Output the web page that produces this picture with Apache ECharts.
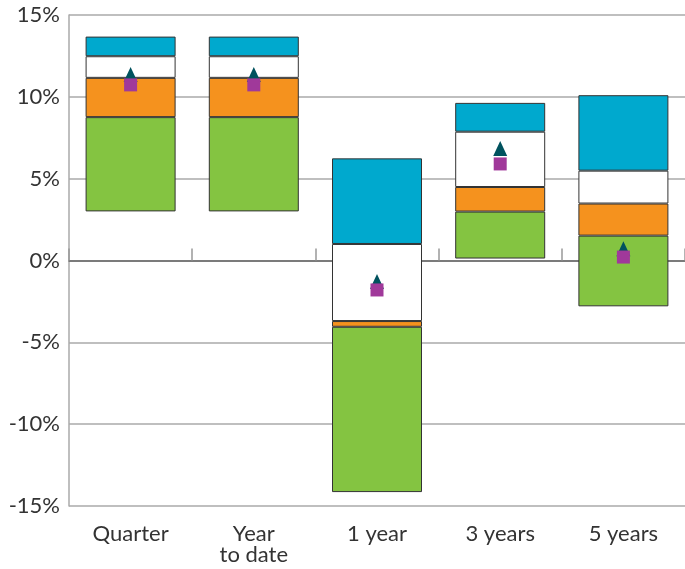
<!DOCTYPE html>
<html>
<head>
<meta charset="utf-8">
<script src="https://cdn.jsdelivr.net/npm/echarts@6/dist/echarts.min.js"></script>
<style>
html,body{margin:0;padding:0;background:#fff;}
#chart{width:685px;height:569px;}
</style>
</head>
<body>
<div id="chart"></div>
<script>
const categories = ['Quarter', 'Year\nto date', '1 year', '3 years', '5 years'];
const rangeBottom = [3.00, 3.00, -14.15, 0.12, -2.80];
const greenTop = [8.76, 8.76, -4.05, 2.99, 1.52];
const orangeTop = [11.16, 11.16, -3.70, 4.49, 3.48];
const whiteTop = [12.48, 12.48, 1.01, 7.87, 5.49];
const rangeTop = [13.68, 13.68, 6.24, 9.63, 10.10];
const triangleValues = [11.36, 11.36, -1.29, 6.84, 0.72];
const squareValues = [10.73, 10.73, -1.80, 5.90, 0.21];
const yTicks = { min: -15, max: 15, interval: 5 };

const diff = (a, b) => a.map((v, i) => +(v - b[i]).toFixed(2));
const FONT = 'Lato';
const segStyle = c => ({ color: c, borderColor: '#333', borderWidth: 1 });

const chart = echarts.init(document.getElementById('chart'), null, { renderer: 'canvas' });
chart.setOption({
  animation: false,
  backgroundColor: '#fff',
  grid: { left: 69, right: 0, top: 15, bottom: 63, containLabel: false },
  xAxis: {
    type: 'category',
    data: categories,
    boundaryGap: true,
    axisLine: { show: true, lineStyle: { color: '#666', width: 1.5 } },
    axisTick: { show: true, inside: true, length: 12, lineStyle: { color: '#999', width: 1.5 } },
    axisLabel: { color: '#333', fontSize: 22, fontFamily: FONT, margin: 17, lineHeight: 21, interval: 0 },
    splitLine: { show: false }
  },
  yAxis: {
    type: 'value',
    min: yTicks.min, max: yTicks.max, interval: yTicks.interval,
    axisLine: { show: true, lineStyle: { color: '#aaa', width: 1.5 } },
    axisTick: { show: false },
    axisLabel: { formatter: '{value}%', color: '#333', fontSize: 22, fontFamily: FONT, margin: 9 },
    splitLine: { show: true, lineStyle: { color: '#aaa', width: 1.5 } }
  },
  series: [
    { type: 'bar', stack: 'r', stackStrategy: 'all', data: rangeBottom, barWidth: 90,
      itemStyle: { color: 'transparent', borderWidth: 0 }, silent: true },
    { type: 'bar', stack: 'r', stackStrategy: 'all', data: diff(greenTop, rangeBottom), barWidth: 90, itemStyle: segStyle('#84C441') },
    { type: 'bar', stack: 'r', stackStrategy: 'all', data: diff(orangeTop, greenTop), barWidth: 90, itemStyle: segStyle('#F5921E') },
    { type: 'bar', stack: 'r', stackStrategy: 'all', data: diff(whiteTop, orangeTop), barWidth: 90, itemStyle: segStyle('#ffffff') },
    { type: 'bar', stack: 'r', stackStrategy: 'all', data: diff(rangeTop, whiteTop), barWidth: 90, itemStyle: segStyle('#00A9CE') },
    { type: 'scatter', data: triangleValues, symbol: 'triangle', symbolSize: [14, 15], z: 5,
      itemStyle: { color: '#00525E', opacity: 1 } },
    { type: 'scatter', data: squareValues, symbol: 'rect', symbolSize: [13, 13], z: 6,
      itemStyle: { color: '#A0399A', opacity: 1 } }
  ]
});
</script>
</body>
</html>
